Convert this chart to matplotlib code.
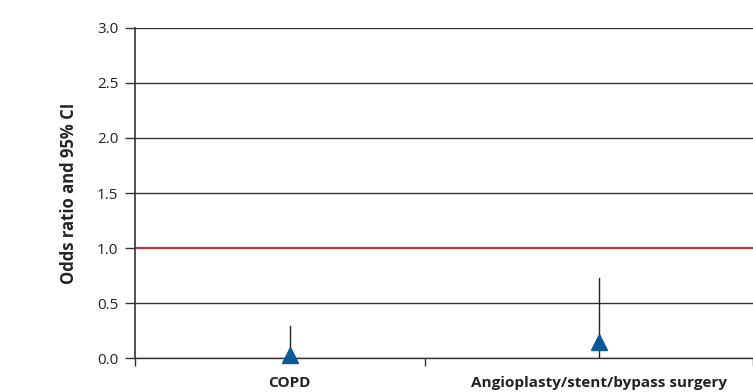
import matplotlib.pyplot as plt

categories = ["COPD", "Angioplasty/stent/bypass surgery"]
odds_ratio = [0.03, 0.15]
ci_low = [0.0, 0.01]
ci_high = [0.29, 0.73]
y_ticks = [0.0, 0.5, 1.0, 1.5, 2.0, 2.5, 3.0]

plt.rcParams['font.family'] = ['Open Sans', 'DejaVu Sans']

fig = plt.figure(figsize=(7.53, 3.92), dpi=100)
ax = fig.add_axes([0.1793, 0.0867, 0.8207, 0.8419])

x = [0.5, 1.5]

# gridlines and the reference line at OR = 1
for y in y_ticks:
    if y == 1.0:
        ax.axhline(y, color='#b83c3c', lw=1.6, zorder=1)
    else:
        ax.axhline(y, color='#333333', lw=1.0, zorder=1)

for xi, lo, hi in zip(x, ci_low, ci_high):
    ax.plot([xi, xi], [lo, hi], color='#222222', lw=1.0, zorder=2)
ax.plot(x, odds_ratio, linestyle='none', marker='^', markersize=12,
        color='#0b5a96', zorder=3, clip_on=False)

ax.set_xlim(0, 2)
ax.set_ylim(0, 3.0)
ax.set_yticks(y_ticks)
ax.set_yticklabels([f"{v:.1f}" for v in y_ticks], fontsize=11, color='#222222')
ax.tick_params(axis='y', length=7, width=1, color='#333333', pad=5)

ax.set_xticks([0, 0.94, 2])
ax.set_xticklabels([])
ax.set_xticks(x, minor=True)
ax.set_xticklabels(categories, minor=True, fontsize=11, fontweight='bold',
                   color='#222222')
ax.tick_params(axis='x', which='major', length=6, width=1, color='#333333')
ax.tick_params(axis='x', which='minor', length=0, pad=13)

ax.set_ylabel("Odds ratio and 95% CI", fontsize=12, fontweight='bold',
              color='#222222', labelpad=14)

for s in ['top', 'right']:
    ax.spines[s].set_visible(False)
ax.spines['left'].set_color('#333333')
ax.spines['left'].set_linewidth(1.2)
ax.spines['bottom'].set_color('#333333')
ax.spines['bottom'].set_linewidth(1.0)

fig.savefig('out.png', dpi=100)
